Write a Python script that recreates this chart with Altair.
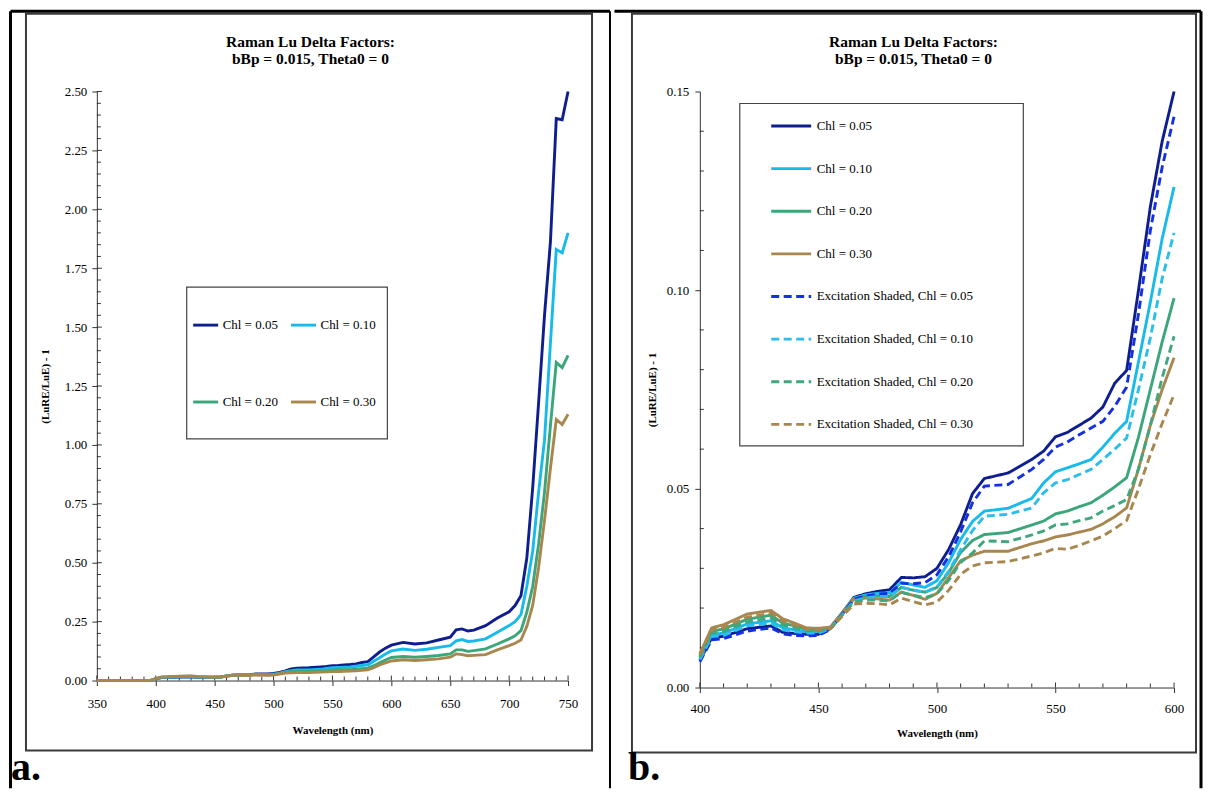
import altair as alt
import pandas as pd

FONT = "Liberation Serif"

# ---------------- data ----------------
WL_LOW = [350, 360, 370, 380, 390, 395]
LOW_VALUES = [0.0, 0.0, 0.0, 0.0, 0.0, 0.0]

WL_MID = [400, 405, 410, 420, 430, 435, 440, 445, 450, 455, 465, 470, 475, 480, 485,
          490, 495, 500, 505, 510, 515, 520, 530, 540, 545, 550, 555, 560, 565, 570,
          575, 580, 585, 590, 595, 600]

CHL005 = [0.0068, 0.0125, 0.0129, 0.0148, 0.0155, 0.0139, 0.0136, 0.0134, 0.0134, 0.0148,
          0.0227, 0.0236, 0.0242, 0.0246, 0.0277, 0.0276, 0.0279, 0.0300, 0.0348, 0.0410,
          0.0488, 0.0526, 0.0540, 0.0574, 0.0595, 0.0631, 0.0642, 0.0660, 0.0678, 0.0706,
          0.0766, 0.0798, 0.1000, 0.1210, 0.1375, 0.1500]
CHL010 = [0.0072, 0.0133, 0.0137, 0.0160, 0.0168, 0.0150, 0.0145, 0.0140, 0.0140, 0.0150,
          0.0225, 0.0233, 0.0237, 0.0238, 0.0265, 0.0258, 0.0252, 0.0269, 0.0315, 0.0373,
          0.0418, 0.0444, 0.0451, 0.0476, 0.0515, 0.0543, 0.0553, 0.0563, 0.0574, 0.0605,
          0.0640, 0.0670, 0.0820, 0.0970, 0.1130, 0.1260]
CHL020 = [0.0078, 0.0142, 0.0147, 0.0172, 0.0182, 0.0162, 0.0155, 0.0146, 0.0145, 0.0150,
          0.0224, 0.0229, 0.0230, 0.0229, 0.0252, 0.0245, 0.0240, 0.0252, 0.0290, 0.0340,
          0.0370, 0.0385, 0.0390, 0.0409, 0.0419, 0.0437, 0.0444, 0.0455, 0.0465, 0.0484,
          0.0505, 0.0528, 0.0630, 0.0750, 0.0870, 0.0980]
CHL030 = [0.0085, 0.0150, 0.0158, 0.0185, 0.0194, 0.0173, 0.0162, 0.0150, 0.0149, 0.0152,
          0.0223, 0.0225, 0.0223, 0.0220, 0.0240, 0.0232, 0.0222, 0.0237, 0.0277, 0.0319,
          0.0333, 0.0343, 0.0343, 0.0362, 0.0369, 0.0379, 0.0384, 0.0391, 0.0398, 0.0412,
          0.0430, 0.0452, 0.0550, 0.0660, 0.0750, 0.0830]

SH005 = [0.0065, 0.0120, 0.0123, 0.0142, 0.0150, 0.0135, 0.0131, 0.0130, 0.0131, 0.0146,
         0.0222, 0.0230, 0.0235, 0.0237, 0.0262, 0.0261, 0.0264, 0.0284, 0.0330, 0.0392,
         0.0465, 0.0507, 0.0511, 0.0549, 0.0574, 0.0605, 0.0618, 0.0636, 0.0653, 0.0670,
         0.0708, 0.0756, 0.0940, 0.1150, 0.1310, 0.1437]
SH010 = [0.0070, 0.0128, 0.0131, 0.0155, 0.0162, 0.0145, 0.0140, 0.0137, 0.0137, 0.0148,
         0.0218, 0.0226, 0.0229, 0.0229, 0.0252, 0.0245, 0.0240, 0.0253, 0.0293, 0.0347,
         0.0395, 0.0431, 0.0436, 0.0452, 0.0490, 0.0515, 0.0523, 0.0536, 0.0549, 0.0574,
         0.0600, 0.0628, 0.0750, 0.0880, 0.1030, 0.1144]
SH020 = [0.0076, 0.0137, 0.0141, 0.0165, 0.0175, 0.0157, 0.0150, 0.0143, 0.0142, 0.0148,
         0.0215, 0.0220, 0.0220, 0.0218, 0.0240, 0.0232, 0.0226, 0.0236, 0.0270, 0.0315,
         0.0339, 0.0369, 0.0367, 0.0384, 0.0394, 0.0409, 0.0412, 0.0420, 0.0427, 0.0444,
         0.0458, 0.0473, 0.0550, 0.0660, 0.0780, 0.0884]
SH030 = [0.0082, 0.0145, 0.0151, 0.0177, 0.0187, 0.0167, 0.0157, 0.0147, 0.0145, 0.0148,
         0.0210, 0.0212, 0.0211, 0.0208, 0.0225, 0.0216, 0.0208, 0.0215, 0.0245, 0.0285,
         0.0306, 0.0314, 0.0317, 0.0331, 0.0339, 0.0350, 0.0348, 0.0358, 0.0369, 0.0381,
         0.0400, 0.0420, 0.0500, 0.0586, 0.0665, 0.0737]

WL_HIGH = [610, 620, 630, 640, 650, 655, 660, 665, 670, 680, 690, 700, 705, 710, 715,
           720, 725, 730, 735, 740, 745, 750]
HIGH005 = [0.162, 0.155, 0.160, 0.172, 0.184, 0.215, 0.219, 0.210, 0.214, 0.233, 0.265,
           0.292, 0.318, 0.360, 0.52, 0.82, 1.18, 1.55, 1.86, 2.385, 2.38, 2.50]
HIGH010 = [0.134, 0.128, 0.133, 0.141, 0.148, 0.168, 0.174, 0.166, 0.168, 0.177, 0.205,
           0.233, 0.250, 0.280, 0.40, 0.55, 0.80, 1.02, 1.43, 1.83, 1.815, 1.90]
HIGH020 = [0.102, 0.099, 0.102, 0.106, 0.113, 0.130, 0.130, 0.124, 0.127, 0.134, 0.155,
           0.177, 0.190, 0.212, 0.29, 0.40, 0.58, 0.80, 1.08, 1.35, 1.328, 1.38]
HIGH030 = [0.088, 0.085, 0.088, 0.092, 0.099, 0.113, 0.110, 0.105, 0.107, 0.110, 0.130,
           0.148, 0.158, 0.172, 0.23, 0.32, 0.48, 0.68, 0.90, 1.108, 1.087, 1.13]

LEFT_SERIES = ["Chl = 0.05", "Chl = 0.10", "Chl = 0.20", "Chl = 0.30"]
SHADED_SERIES = ["Excitation Shaded, Chl = 0.05", "Excitation Shaded, Chl = 0.10",
                 "Excitation Shaded, Chl = 0.20", "Excitation Shaded, Chl = 0.30"]
RIGHT_SERIES = LEFT_SERIES + SHADED_SERIES

TITLE_LINES = ["Raman Lu Delta Factors:", "bBp = 0.015, Theta0 = 0"]
X_TITLE = "Wavelength (nm)"
Y_TITLE = "(LuRE/LuE) - 1"

X_TICKS_L = [350, 400, 450, 500, 550, 600, 650, 700, 750]
Y_TICKS_L = [0.0, 0.25, 0.5, 0.75, 1.0, 1.25, 1.5, 1.75, 2.0, 2.25, 2.5]
X_TICKS_R = [400, 450, 500, 550, 600]
Y_TICKS_R = [0.0, 0.05, 0.10, 0.15]

COLORS_SOLID = ["#0F1E8F", "#16BBEC", "#3AA67A", "#A8874F"]
COLORS_DASHED = ["#1530E4", "#2BBDEB", "#3FA77E", "#A8874F"]

# ---------------- tables ----------------
left_rows = []
for name, mid, high in zip(LEFT_SERIES, [CHL005, CHL010, CHL020, CHL030],
                           [HIGH005, HIGH010, HIGH020, HIGH030]):
    for w, v in zip(WL_LOW + WL_MID + WL_HIGH, LOW_VALUES + mid + high):
        left_rows.append({"wl": w, "v": v, "series": name})
left_df = pd.DataFrame(left_rows)

right_rows = []
for name, vals in zip(RIGHT_SERIES, [CHL005, CHL010, CHL020, CHL030,
                                     SH005, SH010, SH020, SH030]):
    for w, v in zip(WL_MID, vals):
        right_rows.append({"wl": w, "v": v, "series": name})
right_df = pd.DataFrame(right_rows)

minor_x_l = pd.DataFrame({"wl": [350 + 10 * i for i in range(41) if i % 5]})
minor_y_l = pd.DataFrame({"v": [round(0.05 * i, 2) for i in range(51) if i % 5]})
major_x_l = pd.DataFrame({"wl": X_TICKS_L})
major_y_l = pd.DataFrame({"v": Y_TICKS_L})
minor_x_r = pd.DataFrame({"wl": [400 + 10 * i for i in range(21) if i % 5]})
minor_y_r = pd.DataFrame({"v": [round(0.01 * i, 2) for i in range(16) if i % 5]})
major_x_r = pd.DataFrame({"wl": X_TICKS_R})

ONE = pd.DataFrame({"k": [0]})

WL_, HL_ = 472, 590   # left plot size
WR_, HR_ = 475, 597   # right plot size

XS_L = alt.Scale(domain=[350, 750], nice=False, zero=False)
YS_L = alt.Scale(domain=[0, 2.5], nice=False)
XS_R = alt.Scale(domain=[400, 600], nice=False, zero=False)
YS_R = alt.Scale(domain=[0, 0.15], nice=False)

TICK_COLOR = "#333333"

AX_X_L = alt.Axis(values=X_TICKS_L, format="d", title=X_TITLE, tickSize=5, labelFlush=False,
                  labelPadding=12, labelFontSize=13, titleX=WL_ / 2, titleY=50,
                  titleBaseline="middle", titleFontSize=11, titleFontWeight="bold")
AX_Y_L = alt.Axis(values=Y_TICKS_L, format=".2f", title=Y_TITLE, tickSize=5,
                  labelPadding=5, labelFontSize=13, titleX=-51, titleY=HL_ / 2,
                  titleAngle=270, titleAlign="center", titleBaseline="middle",
                  titleFontSize=11, titleFontWeight="bold")
AX_X_R = alt.Axis(values=X_TICKS_R, format="d", title=X_TITLE, tickSize=5, labelFlush=False,
                  labelPadding=10, labelFontSize=13, titleX=WR_ / 2, titleY=46,
                  titleBaseline="middle", titleFontSize=11, titleFontWeight="bold")
AX_Y_R = alt.Axis(values=Y_TICKS_R, format=".2f", title=Y_TITLE, tickSize=5,
                  labelPadding=6, labelFontSize=13, titleX=-47, titleY=HR_ / 2,
                  titleAngle=270, titleAlign="center", titleBaseline="middle",
                  titleFontSize=11, titleFontWeight="bold")


def hline(x1, x2, y, w, color="black"):
    return alt.Chart(ONE).mark_rule(strokeWidth=w, color=color).encode(
        x=alt.value(x1), x2=alt.value(x2), y=alt.value(y))


def vline(x, y1, y2, w, color="black"):
    return alt.Chart(ONE).mark_rule(strokeWidth=w, color=color).encode(
        x=alt.value(x), y=alt.value(y1), y2=alt.value(y2))


def box(x1, x2, y1, y2, w, color, fill="transparent"):
    return alt.Chart(ONE).mark_rect(fill=fill, stroke=color, strokeWidth=w).encode(
        x=alt.value(x1), x2=alt.value(x2), y=alt.value(y1), y2=alt.value(y2))


def label(t, x, y, size, align="left", baseline="alphabetic"):
    return alt.Chart(ONE).mark_text(text=t, font=FONT, fontSize=size, fontWeight="bold",
                                    align=align, baseline=baseline,
                                    color="black").encode(x=alt.value(x), y=alt.value(y))


def yticks(df, scale, axis, x1, x2):
    return alt.Chart(df).mark_rule(color=TICK_COLOR, strokeWidth=1).encode(
        y=alt.Y("v:Q", scale=scale, axis=axis), x=alt.value(x1), x2=alt.value(x2))


def xticks(df, scale, axis, y1, y2):
    return alt.Chart(df).mark_rule(color=TICK_COLOR, strokeWidth=1).encode(
        x=alt.X("wl:Q", scale=scale, axis=axis), y=alt.value(y1), y2=alt.value(y2))


def titles(cx):
    return [label(TITLE_LINES[0], cx, -50, 15.5, align="center", baseline="middle"),
            label(TITLE_LINES[1], cx, -33, 15.5, align="center", baseline="middle")]


# ---------------- left panel ----------------
left_lines = alt.Chart(left_df).mark_line(strokeWidth=2.9).encode(
    x=alt.X("wl:Q", scale=XS_L, axis=AX_X_L),
    y=alt.Y("v:Q", scale=YS_L, axis=AX_Y_L),
    color=alt.Color("series:N", title=None,
                    scale=alt.Scale(domain=LEFT_SERIES, range=COLORS_SOLID),
                    legend=alt.Legend(orient="none", legendX=95, legendY=220, columns=2,
                                      direction="horizontal",
                                      symbolType="stroke", symbolSize=625,
                                      symbolStrokeWidth=2.9, labelFont=FONT,
                                      labelFontSize=13, labelColor="black", labelOffset=3,
                                      labelLimit=300, rowPadding=56, columnPadding=6,
                                      padding=0)),
)

left = alt.layer(
    box(-71, 496, -78, 660, 2, "#3a3a3a"),
    vline(-86.5, -80.5, 698, 3),
    hline(-86.5, 514, -80.5, 3),
    vline(514, -80.5, 698, 2),
    box(90, 291, 196, 348, 1.2, "#444444", fill="white"),
    *titles(214),
    yticks(major_y_l, YS_L, AX_Y_L, 0, 5),
    yticks(minor_y_l, YS_L, AX_Y_L, 0, 4),
    xticks(major_x_l, XS_L, AX_X_L, HL_, HL_ - 5),
    xticks(minor_x_l, XS_L, AX_X_L, HL_, HL_ - 4),
    left_lines,
    label("a.", -86, 690, 40),
).properties(width=WL_, height=HL_)

# ---------------- right panel ----------------
right_legend = alt.Legend(orient="none", legendX=70, legendY=13, columns=1,
                          symbolType="stroke", symbolSize=1600, symbolStrokeWidth=2.9,
                          labelFont=FONT, labelFontSize=13, labelColor="black",
                          labelOffset=4, labelLimit=300, rowPadding=13.7, padding=0)

right_lines = alt.Chart(right_df).mark_line(strokeWidth=2.9).encode(
    x=alt.X("wl:Q", scale=XS_R, axis=AX_X_R),
    y=alt.Y("v:Q", scale=YS_R, axis=AX_Y_R),
    color=alt.Color("series:N", title=None,
                    scale=alt.Scale(domain=RIGHT_SERIES, range=COLORS_SOLID + COLORS_DASHED),
                    legend=right_legend),
    strokeDash=alt.StrokeDash("series:N", title=None,
                              scale=alt.Scale(domain=RIGHT_SERIES,
                                              range=[[1, 0]] * 4 + [[8, 4.5]] * 4),
                              legend=right_legend),
)

right = alt.layer(
    box(-68, 497, -78, 662, 2, "#3a3a3a"),
    hline(-85.5, 502, -80.5, 3),
    vline(502, -80.5, 698, 3),
    box(40, 324, 12, 355, 1.2, "#444444", fill="white"),
    *titles(214),
    yticks(minor_y_r, YS_R, AX_Y_R, 0, 4),
    xticks(major_x_r, XS_R, AX_X_R, HR_, HR_ - 5),
    xticks(minor_x_r, XS_R, AX_X_R, HR_, HR_ - 4),
    right_lines,
    label("b.", -72, 690, 40),
).properties(width=WR_, height=HR_)

chart = alt.hconcat(left, right, spacing=0).resolve_scale(
    x="independent", y="independent", color="independent", strokeDash="independent"
).resolve_legend(color="independent", strokeDash="independent").configure_view(
    stroke="transparent"
).configure_axis(
    labelFont=FONT, titleFont=FONT, labelColor="black", titleColor="black",
    domainColor=TICK_COLOR, tickColor=TICK_COLOR, grid=False
).properties(padding=0, background="white")

chart.save("out.html", embed_options={"renderer": "svg", "actions": False})
